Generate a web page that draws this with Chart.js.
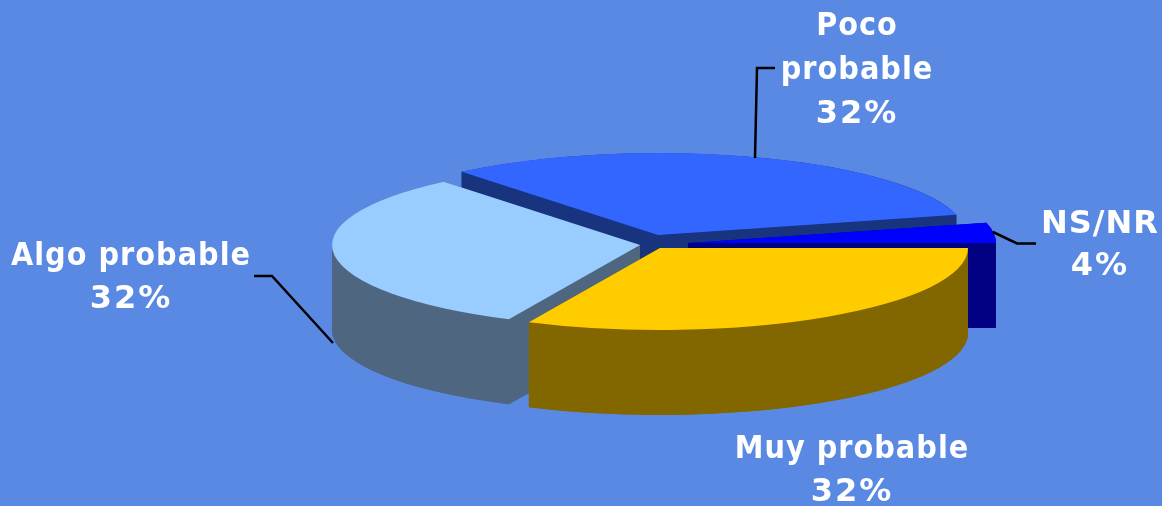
<!DOCTYPE html>
<html>
<head>
<meta charset="utf-8">
<script src="https://cdn.jsdelivr.net/npm/chart.js@4"></script>
<style>
  html, body { margin: 0; padding: 0; background: #5989e3; overflow: hidden; }
  canvas { display: block; }
</style>
</head>
<body>
<canvas id="pie" width="1162" height="506"></canvas>
<script>
// clockwise from 3 o'clock, same order as the slices in the picture
const categories = ['Muy probable', 'Algo probable', 'Poco probable', 'NS/NR'];
const values = [32, 32, 32, 4];
const topColors = ['#ffcc00', '#99ccff', '#3366ff', '#0000ff'];
const wallColors = ['#826600', '#4f6681', '#18347f', '#000080'];

// how far each slice is pulled out of the pie, px on screen
const sliceShift = [[0, 6], [-20, 3], [-2, -7], [28, 1]];
const paintOrder = [2, 3, 1, 0];   // back to front

const squash = 0.266;
const depth = 85;

const labelBoxes = [
  { x: 852, y: 450, step: 43, lines: ['Muy probable'] },
  { x: 131, y: 257, step: 43, lines: ['Algo probable'] },
  { x: 857, y: 27, step: 44, lines: ['Poco', 'probable'] },
  { x: 1100, y: 225, step: 42, lines: ['NS/NR'], wide: true }
];
const leaders = [
  [[755, 158], [757, 68], [775, 68]],
  [[333, 343], [272, 276], [254, 276]],
  [[993, 232], [1017, 243.5], [1036, 243.5]]
];

function fillWall(ctx, arc) {
  const rx = arc.outerRadius, ry = rx * squash;
  const a0 = arc.startAngle, a1 = arc.endAngle;

  // outer band, split at the left extreme or the path crosses itself
  const spans = a0 < Math.PI && a1 > Math.PI ? [[a0, Math.PI], [Math.PI, a1]] : [[a0, a1]];
  spans.forEach(s => {
    ctx.beginPath();
    ctx.ellipse(arc.x, arc.y, rx, ry, 0, s[0], s[1]);
    ctx.ellipse(arc.x, arc.y + depth, rx, ry, 0, s[1], s[0], true);
    ctx.closePath();
    ctx.fill();
  });

  // the two cut faces
  [a0, a1].forEach(a => {
    const ex = arc.x + rx * Math.cos(a), ey = arc.y + ry * Math.sin(a);
    ctx.beginPath();
    ctx.moveTo(arc.x, arc.y);
    ctx.lineTo(ex, ey);
    ctx.lineTo(ex, ey + depth);
    ctx.lineTo(arc.x, arc.y + depth);
    ctx.closePath();
    ctx.fill();
  });

  // bottom of the slice
  ctx.beginPath();
  ctx.moveTo(arc.x, arc.y + depth);
  ctx.ellipse(arc.x, arc.y + depth, rx, ry, 0, a0, a1);
  ctx.closePath();
  ctx.fill();
}

const pie3d = {
  id: 'pie3d',
  beforeDatasetsDraw(chart) {
    const ctx = chart.ctx;
    const arcs = chart.getDatasetMeta(0).data;
    const cx = arcs[0].x, cy = arcs[0].y;

    paintOrder.forEach(i => {
      ctx.save();
      ctx.translate(sliceShift[i][0], sliceShift[i][1]);

      ctx.fillStyle = wallColors[i];
      fillWall(ctx, arcs[i]);

      ctx.translate(cx, cy);
      ctx.scale(1, squash);
      ctx.translate(-cx, -cy);
      arcs[i].draw(ctx);
      ctx.restore();
    });
    return false; // slices are done, skip the flat default draw
  },
  afterDraw(chart) {
    const ctx = chart.ctx;
    ctx.save();
    ctx.strokeStyle = '#000';
    ctx.lineWidth = 2.5;
    leaders.forEach(pts => {
      ctx.beginPath();
      pts.forEach((p, n) => n ? ctx.lineTo(p[0], p[1]) : ctx.moveTo(p[0], p[1]));
      ctx.stroke();
    });

    ctx.fillStyle = '#fff';
    ctx.textAlign = 'center';
    ctx.textBaseline = 'middle';
    labelBoxes.forEach((box, i) => {
      box.lines.forEach((line, n) => {
        ctx.font = box.wide ? 'bold 32px "DejaVu Sans"' : 'bold 32px "DejaVu Sans Condensed", "DejaVu Sans"';
        ctx.letterSpacing = '1px';
        ctx.fillText(line, box.x, box.y + n * box.step);
      });
      // the percent line runs wider than the names
      ctx.font = 'bold 32px "DejaVu Sans"';
      ctx.letterSpacing = '2px';
      ctx.fillText(values[i] + '%', box.x, box.y + box.lines.length * box.step);
    });
    ctx.restore();
  }
};

new Chart(document.getElementById('pie'), {
  type: 'pie',
  data: {
    labels: categories,
    datasets: [{
      data: values,
      backgroundColor: topColors,
      borderWidth: 0
    }]
  },
  options: {
    responsive: false,
    animation: false,
    rotation: 90,
    radius: 308,
    layout: { padding: { left: 158, bottom: 22 } },
    plugins: {
      legend: { display: false },
      tooltip: { enabled: false }
    }
  },
  plugins: [pie3d]
});
</script>
</body>
</html>
